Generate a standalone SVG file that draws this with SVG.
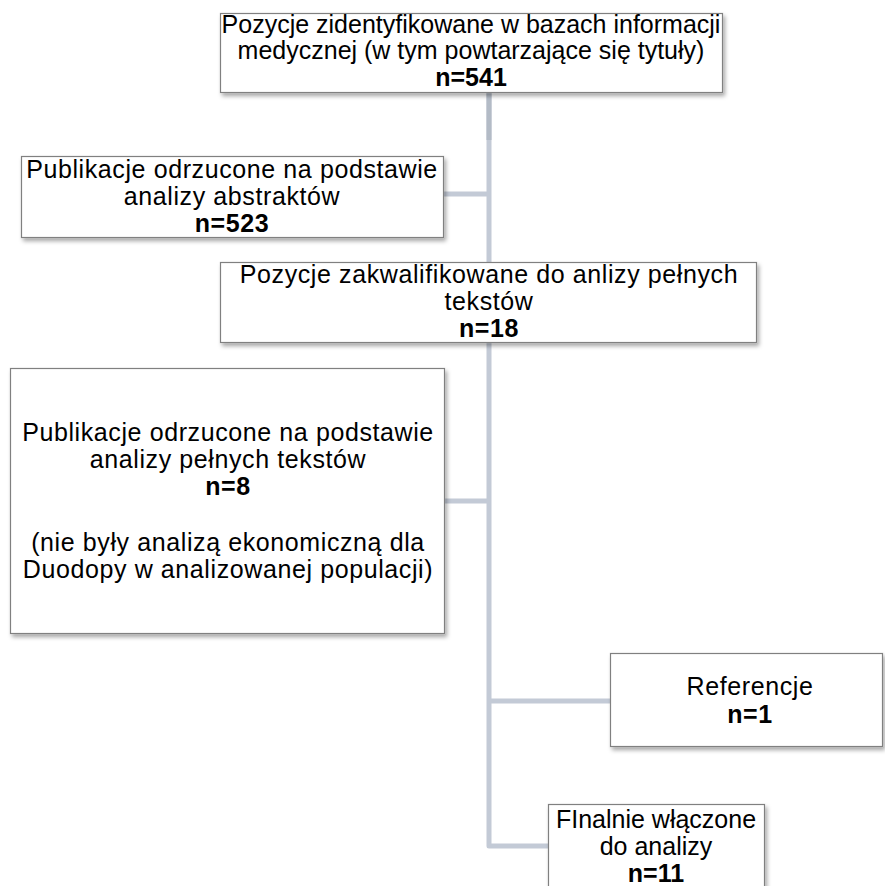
<svg xmlns="http://www.w3.org/2000/svg" width="885" height="886" viewBox="0 0 885 886">
<defs>
<filter id="sh" x="-10%" y="-10%" width="120%" height="130%">
<feDropShadow dx="2" dy="3" stdDeviation="2" flood-color="#000" flood-opacity="0.35"/>
</filter>
<style>
.box{fill:#fff;stroke:#808080;stroke-width:1.2;filter:url(#sh)}
.t{font-family:"Liberation Sans",Arial,sans-serif;font-size:25px;fill:#000;text-anchor:middle}
.l{letter-spacing:0.6px}
.b{font-weight:bold}
.c{fill:none;stroke:#c3cad6;stroke-width:5;stroke-linejoin:round;stroke-linecap:butt}
.c0{fill:none;stroke:#b3bbc6;stroke-width:5}
</style>
</defs>
<rect width="885" height="886" fill="#fff"/>
<g id="connectors">
<path class="c" d="M489,92 V846 H549"/>
<path class="c0" d="M489,92 V140"/>
<path class="c" d="M443,194 H489"/>
<path class="c" d="M445,501 H489"/>
<path class="c" d="M489,701 H611"/>
</g>
<g id="n1">
<rect class="box" x="220.5" y="13.5" width="502" height="79"/>
<text class="t" x="471" y="33">Pozycje zidentyfikowane w bazach informacji</text>
<text class="t" x="471" y="59">medycznej (w tym powtarzające się tytuły)</text>
<text class="t b" x="471" y="86">n=541</text>
</g>
<g id="n2">
<rect class="box" x="21.5" y="156.5" width="422" height="81"/>
<text class="t l" x="232" y="178">Publikacje odrzucone na podstawie</text>
<text class="t l" x="232" y="205">analizy abstraktów</text>
<text class="t l b" x="232" y="232">n=523</text>
</g>
<g id="n3">
<rect class="box" x="220.5" y="262.5" width="536" height="80"/>
<text class="t l" x="489" y="283">Pozycje zakwalifikowane do anlizy pełnych</text>
<text class="t l" x="489" y="310">tekstów</text>
<text class="t l b" x="489" y="337">n=18</text>
</g>
<g id="n4">
<rect class="box" x="10.5" y="368.5" width="434" height="265"/>
<text class="t l" x="228" y="441">Publikacje odrzucone na podstawie</text>
<text class="t l" x="228" y="468">analizy pełnych tekstów</text>
<text class="t l b" x="228" y="495">n=8</text>
<text class="t l" x="228" y="551">(nie były analizą ekonomiczną dla</text>
<text class="t l" x="228" y="578">Duodopy w analizowanej populacji)</text>
</g>
<g id="n5">
<rect class="box" x="610.5" y="653.5" width="272" height="93"/>
<text class="t l" x="750" y="695">Referencje</text>
<text class="t l b" x="750" y="723">n=1</text>
</g>
<g id="n6">
<rect class="box" x="548.5" y="804.5" width="216" height="84"/>
<text class="t" x="656" y="828">FInalnie włączone</text>
<text class="t" x="656" y="855">do analizy</text>
<text class="t b" x="656" y="882">n=11</text>
</g>
</svg>
